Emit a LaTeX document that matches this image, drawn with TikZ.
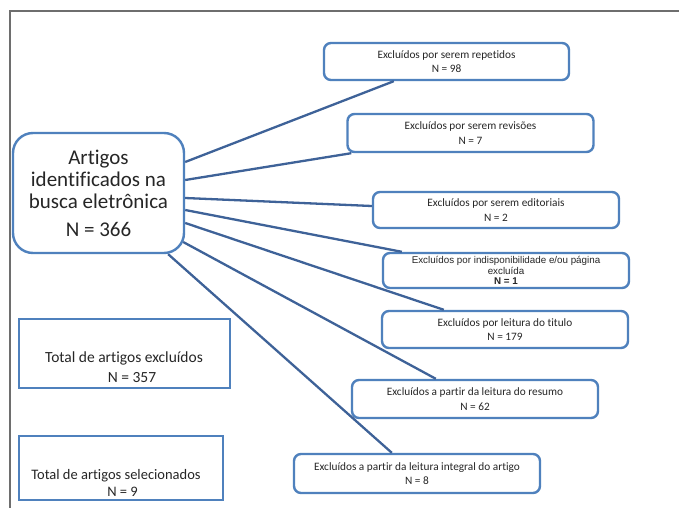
\documentclass[tikz,border=0pt]{standalone}
\usepackage{fontspec}
\setmainfont{Carlito}[Ligatures=NoCommon]
\newfontfamily\arialfont{Liberation Sans}
\usetikzlibrary{calc}
\definecolor{boxblue}{RGB}{79,129,189}
\definecolor{linkblue}{RGB}{62,98,152}
\definecolor{framegray}{RGB}{110,110,110}
\tikzset{
  exbox/.style={draw=boxblue, line width=2.4pt, rounded corners=7pt,
    minimum width=246pt, minimum height=37pt, inner sep=0pt, align=center,
    text=black!85, font=\fontsize{11.3}{14.5}\selectfont},
  totbox/.style={draw=boxblue, line width=2.4pt, inner sep=0pt},
  totlabel/.style={align=center, inner sep=0pt, text=black!85},
  link/.style={draw=linkblue, line width=2.3pt}
}
\begin{document}
\begin{tikzpicture}[x=1pt,y=-1pt]
\useasboundingbox (0,0) rectangle (679,508);
\fill[white] (0,0) rectangle (679,508);
% page frame
\draw[framegray, line width=1.3pt] (679,11) -- (10,11) -- (10,508);

% source node
\node[draw=boxblue, line width=2.4pt, rounded corners=20pt, minimum width=171pt,
  minimum height=120pt, align=center, text=black!85,
  font=\fontsize{21}{22}\selectfont] (main) at (98.5,193)
  {Artigos\\identificados na\\busca eletrônica\\[6pt]N = 366};

% exclusion boxes
\node[exbox, minimum width=245pt] (b1) at (446.5,61.5) {Excluídos por serem repetidos\\N = 98};
\node[exbox, minimum height=38pt] (b2) at (470.5,133) {Excluídos por serem revisões\\N = 7};
\node[exbox, minimum height=36pt] (b3) at (496,210) {Excluídos por serem editoriais\\N = 2};
\node[exbox, minimum height=35pt, font=\arialfont\fontsize{9.8}{10.5}\selectfont] (b4) at (506,270.5)
  {Excluídos por indisponibilidade e/ou página\\excluída\\\textbf{N = 1}};
\node[exbox] (b5) at (505,329.5) {Excluídos por leitura do titulo\\N = 179};
\node[exbox, minimum height=38pt] (b6) at (475,399) {Excluídos a partir da leitura do resumo\\N = 62};
\node[exbox, minimum height=39pt] (b7) at (417,473.5) {Excluídos a partir da leitura integral do artigo\\N = 8};

% totals
\node[totbox, minimum width=211pt, minimum height=69pt] (tex) at (124.5,353.5) {};
\node[totlabel, font=\fontsize{15.5}{20}\selectfont] (texl) at (124,367)
  {Total de artigos excluídos\\\hspace*{16pt}N = 357};
\node[totbox, minimum width=204pt, minimum height=64pt] (tsel) at (121,468) {};
\node[totlabel, font=\fontsize{14.5}{17}\selectfont] (tsell) at (116,482.5)
  {Total de artigos selecionados\\\hspace*{13pt}N = 9};

% connectors
\draw[link] ($(main.east)+(0,-31)$) -- ($(b1.south west)+(71,0)$);
\draw[link] ($(main.east)+(0,-13)$) -- ($(b2.south west)+(5,0)$);
\draw[link] ($(main.east)+(0,5)$)   -- ($(b3.west)+(0,-4)$);
\draw[link] ($(main.east)+(0,17)$)  -- ($(b4.north west)+(20,0)$);
\draw[link] ($(main.east)+(0,30)$)  -- ($(b5.north west)+(63,0)$);
\draw[link] ($(main.east)+(-2,49)$) -- ($(b6.north west)+(85,0)$);
\draw[link] ($(main.south east)+(-17,0)$) -- ($(b7.north west)+(99,0)$);
\end{tikzpicture}
\end{document}
